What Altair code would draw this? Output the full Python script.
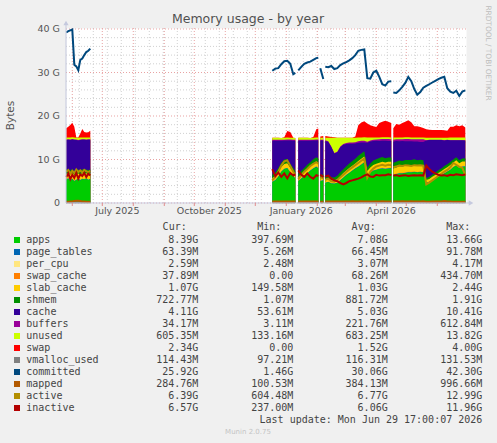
import altair as alt
import pandas as pd

# ------------------------------------------------------------------ data
# segments of continuous samples (gaps between them)
seg_sizes = [13, 9, 8, 2, 23, 25]

dates = [
    "2025-05-26", "2025-05-28", "2025-05-30", "2025-06-01", "2025-06-03", "2025-06-05", "2025-06-07",
    "2025-06-09", "2025-06-11", "2025-06-13", "2025-06-15", "2025-06-17", "2025-06-19",
    "2025-12-18", "2025-12-21", "2025-12-24", "2025-12-27", "2025-12-30", "2026-01-02", "2026-01-05",
    "2026-01-08", "2026-01-10",
    "2026-01-13", "2026-01-16", "2026-01-19", "2026-01-22", "2026-01-25", "2026-01-28", "2026-01-31",
    "2026-02-02",
    "2026-02-04", "2026-02-07",
    "2026-02-09", "2026-02-12", "2026-02-15", "2026-02-18", "2026-02-21", "2026-02-24", "2026-02-27",
    "2026-03-02", "2026-03-05", "2026-03-08", "2026-03-11", "2026-03-14", "2026-03-17", "2026-03-20",
    "2026-03-23", "2026-03-26", "2026-03-29", "2026-04-01", "2026-04-04", "2026-04-07", "2026-04-10",
    "2026-04-13", "2026-04-16",
    "2026-04-18", "2026-04-21", "2026-04-24", "2026-04-27", "2026-04-30", "2026-05-03", "2026-05-06",
    "2026-05-09", "2026-05-12", "2026-05-15", "2026-05-18", "2026-05-21", "2026-05-24", "2026-05-27",
    "2026-05-30", "2026-06-02", "2026-06-05", "2026-06-08", "2026-06-11", "2026-06-14", "2026-06-17",
    "2026-06-20", "2026-06-23", "2026-06-26", "2026-06-29",
]

# values in G
apps = [
    5.4, 5.6, 5.2, 5.5, 5.0, 5.3, 5.6, 5.2, 5.5, 5.4, 5.6, 5.3, 5.5,
    4.8, 5.2, 6.0, 7.2, 7.8, 8.0, 7.0, 6.2, 5.6,
    5.0, 5.6, 6.2, 6.8, 7.4, 7.9, 8.3, 8.0,
    5.0, 5.2,
    4.6, 4.8, 4.5, 4.4, 4.6, 5.2, 5.8, 6.4, 6.9, 7.4, 7.9, 8.3, 8.8, 9.3, 6.2, 6.9, 7.4, 7.6, 7.8, 7.9, 7.8, 7.9, 8.0,
    6.4, 6.6, 6.8, 6.8, 6.9, 7.0, 7.0, 7.1, 7.0, 7.1, 7.0, 4.6, 4.8, 5.2, 5.6, 6.0, 6.4, 6.8, 7.2, 7.6, 8.2, 8.6, 8.0, 8.3, 8.39,
]
page_tables = [
    0.065, 0.066, 0.067, 0.066, 0.064, 0.065, 0.066, 0.067, 0.066, 0.065, 0.066, 0.067, 0.066,
    0.066, 0.067, 0.066, 0.068, 0.067, 0.066, 0.065, 0.066, 0.067,
    0.066, 0.067, 0.068, 0.067, 0.066, 0.067, 0.068, 0.067,
    0.060, 0.062,
    0.064, 0.065, 0.063, 0.064, 0.065, 0.066, 0.067, 0.066, 0.067, 0.068, 0.067, 0.068, 0.069, 0.068, 0.065, 0.066, 0.067, 0.066, 0.067, 0.068, 0.067, 0.066, 0.067,
    0.066, 0.067, 0.066, 0.067, 0.068, 0.067, 0.066, 0.067, 0.068, 0.067, 0.066, 0.062, 0.063, 0.064, 0.063, 0.064, 0.063, 0.064, 0.065, 0.064, 0.063, 0.064, 0.063, 0.064, 0.063,
]
per_cpu = [
    0.0030, 0.0031, 0.0030, 0.0030, 0.0031, 0.0030, 0.0030, 0.0031, 0.0030, 0.0030, 0.0031, 0.0030, 0.0030,
    0.0032, 0.0031, 0.0032, 0.0031, 0.0032, 0.0031, 0.0032, 0.0031, 0.0032,
    0.0031, 0.0032, 0.0031, 0.0032, 0.0031, 0.0032, 0.0031, 0.0032,
    0.0025, 0.0025,
    0.0030, 0.0031, 0.0030, 0.0031, 0.0030, 0.0031, 0.0030, 0.0031, 0.0030, 0.0031, 0.0030, 0.0031, 0.0030, 0.0031, 0.0030, 0.0031, 0.0030, 0.0031, 0.0030, 0.0031, 0.0030, 0.0031, 0.0030,
    0.0029, 0.0028, 0.0029, 0.0028, 0.0029, 0.0028, 0.0029, 0.0028, 0.0029, 0.0028, 0.0029, 0.0026, 0.0026, 0.0027, 0.0026, 0.0027, 0.0026, 0.0027, 0.0026, 0.0027, 0.0026, 0.0027, 0.0026, 0.0027, 0.0026,
]
swap_cache = [
    0.08, 0.09, 0.10, 0.12, 0.09, 0.02, 0.02, 0.05, 0.08, 0.07, 0.06, 0.06, 0.07,
    0.0, 0.0, 0.0, 0.0, 0.01, 0.06, 0.05, 0.01, 0.0,
    0.0, 0.0, 0.0, 0.0, 0.0, 0.01, 0.06, 0.07,
    0.02, 0.02,
    0.03, 0.02, 0.02, 0.01, 0.0, 0.0, 0.0, 0.0, 0.0, 0.0, 0.01, 0.09, 0.10, 0.11, 0.10, 0.09, 0.08, 0.08, 0.10, 0.11, 0.12, 0.11, 0.10,
    0.08, 0.10, 0.09, 0.10, 0.11, 0.12, 0.10, 0.08, 0.08, 0.07, 0.07, 0.05, 0.05, 0.05, 0.05, 0.05, 0.05, 0.05, 0.04, 0.06, 0.06, 0.07, 0.06, 0.07, 0.04,
]
slab_cache = [
    1.2, 1.1, 1.3, 1.2, 1.3, 1.2, 1.1, 1.3, 1.2, 1.2, 1.1, 1.2, 1.2,
    0.9, 0.9, 1.0, 1.0, 1.1, 1.0, 1.0, 0.9, 0.9,
    0.9, 0.9, 1.0, 1.0, 1.0, 1.1, 1.1, 1.1,
    0.7, 0.7,
    0.8, 0.8, 0.7, 0.7, 0.8, 0.9, 1.0, 1.0, 1.1, 1.1, 1.1, 1.2, 1.2, 1.2, 1.0, 1.1, 1.2, 1.3, 1.3, 1.4, 1.3, 1.4, 1.3,
    1.4, 1.4, 1.5, 1.4, 1.5, 1.5, 1.4, 1.5, 1.4, 1.5, 1.4, 0.6, 0.6, 0.7, 0.7, 0.8, 0.8, 0.9, 0.9, 1.0, 1.0, 1.1, 1.0, 1.1, 1.07,
]
shmem = [
    0.9, 0.9, 0.8, 0.9, 0.8, 0.9, 0.9, 0.8, 0.9, 0.9, 0.9, 0.9, 0.9,
    0.8, 0.8, 0.9, 1.0, 1.0, 1.0, 0.9, 0.8, 0.8,
    0.8, 0.8, 0.8, 0.9, 0.9, 1.0, 1.0, 1.0,
    0.6, 0.6,
    0.7, 0.8, 0.7, 0.7, 0.8, 0.9, 0.9, 1.0, 1.0, 1.1, 1.1, 1.2, 1.2, 1.2, 0.8, 0.9, 1.0, 1.0, 1.1, 1.1, 1.0, 1.0, 1.0,
    1.3, 1.3, 1.3, 1.3, 1.3, 1.2, 1.3, 1.3, 1.3, 1.2, 1.3, 0.4, 0.5, 0.5, 0.6, 0.6, 0.6, 0.7, 0.7, 0.7, 0.7, 0.7, 0.7, 0.7, 0.72,
]
cache = [
    6.86, 6.79, 7.01, 6.81, 7.28, 7.01, 6.69, 7.06, 6.81, 6.90, 6.76, 7.01, 6.81,
    7.76, 7.36, 6.36, 5.06, 4.36, 4.26, 5.36, 6.36, 6.96,
    7.56, 6.96, 6.26, 5.56, 4.96, 4.26, 3.86, 4.16,
    7.96, 7.76,
    8.06, 7.56, 6.91, 5.51, 5.39, 5.73, 5.61, 5.09, 4.56, 3.93, 3.51, 2.99, 2.56, 2.03, 5.71, 5.06, 4.51, 4.24, 3.91, 3.73, 4.01, 3.79, 3.76,
    4.91, 4.76, 4.46, 4.56, 4.31, 4.31, 4.31, 4.06, 4.26, 4.11, 4.21, 8.66, 8.46, 7.96, 7.47, 6.97, 6.57, 5.87, 5.57, 4.98, 4.38, 3.88, 4.58, 4.18, 4.11,
]
buffers = [
    0.10, 0.12, 0.10, 0.10, 0.08, 0.10, 0.12, 0.10, 0.10, 0.11, 0.10, 0.10, 0.10,
    0.20, 0.21, 0.20, 0.19, 0.20, 0.21, 0.20, 0.20, 0.19,
    0.20, 0.20, 0.21, 0.20, 0.19, 0.20, 0.21, 0.20,
    0.20, 0.20,
    0.15, 0.15, 0.10, 0.10, 0.12, 0.18, 0.20, 0.22, 0.25, 0.28, 0.30, 0.32, 0.35, 0.38, 0.20, 0.25, 0.30, 0.32, 0.35, 0.38, 0.40, 0.42, 0.45,
    0.40, 0.40, 0.45, 0.45, 0.50, 0.50, 0.50, 0.55, 0.55, 0.60, 0.60, 0.05, 0.05, 0.05, 0.04, 0.04, 0.04, 0.04, 0.04, 0.03, 0.03, 0.03, 0.03, 0.03, 0.03,
]
unused = [
    0.45, 0.40, 0.50, 0.40, 0.45, 0.40, 0.50, 0.45, 0.40, 0.40, 0.45, 0.40, 0.40,
    0.45, 0.44, 0.46, 0.45, 0.45, 0.44, 0.45, 0.46, 0.45,
    0.45, 0.46, 0.44, 0.45, 0.45, 0.46, 0.44, 0.45,
    0.45, 0.45,
    0.60, 0.80, 2.00, 3.50, 3.20, 2.00, 1.40, 1.20, 1.10, 1.10, 1.00, 0.90, 0.80, 0.80, 1.00, 0.70, 0.50, 0.45, 0.45, 0.40, 0.40, 0.40, 0.40,
    0.50, 0.45, 0.40, 0.40, 0.40, 0.40, 0.40, 0.40, 0.40, 0.40, 0.40, 0.60, 0.50, 0.50, 0.50, 0.50, 0.50, 0.60, 0.50, 0.60, 0.60, 0.60, 0.60, 0.60, 0.61,
]
swap = [
    2.15, 2.45, 2.85, 3.35, 2.45, 0.05, 0.05, 0.95, 1.95, 1.25, 1.15, 1.25, 1.55,
    0.0, 0.0, 0.0, 0.0, 0.1, 1.5, 1.3, 0.0, 0.0,
    0.0, 0.0, 0.0, 0.0, 0.0, 0.2, 1.9, 2.1,
    0.3, 0.4,
    0.4, 0.3, 0.2, 0.1, 0.0, 0.0, 0.0, 0.0, 0.0, 0.0, 0.3, 2.8, 3.4, 3.7, 3.2, 2.8, 2.6, 2.4, 3.3, 3.6, 3.8, 3.6, 3.3,
    2.15, 3.1, 2.9, 3.3, 3.6, 3.9, 3.5, 2.6, 2.6, 2.4, 2.2, 1.95, 1.8, 1.75, 1.75, 1.75, 1.75, 1.7, 1.6, 2.5, 2.5, 2.8, 2.6, 2.8, 2.34,
]
vmalloc_used = [
    0.112, 0.113, 0.112, 0.114, 0.113, 0.112, 0.113, 0.114, 0.113, 0.112, 0.113, 0.114, 0.113,
    0.116, 0.117, 0.116, 0.118, 0.117, 0.116, 0.117, 0.118, 0.117,
    0.116, 0.117, 0.118, 0.117, 0.116, 0.117, 0.118, 0.117,
    0.110, 0.111,
    0.115, 0.116, 0.115, 0.116, 0.117, 0.116, 0.117, 0.118, 0.117, 0.118, 0.119, 0.118, 0.119, 0.120, 0.116, 0.117, 0.118, 0.117, 0.118, 0.119, 0.118, 0.119, 0.118,
    0.117, 0.118, 0.117, 0.118, 0.119, 0.118, 0.117, 0.118, 0.119, 0.118, 0.117, 0.113, 0.114, 0.113, 0.114, 0.115, 0.114, 0.115, 0.114, 0.115, 0.114, 0.115, 0.114, 0.115, 0.114,
]
committed = [
    39.2, 39.5, 39.7, 39.9, 31.8, 31.4, 30.5, 32.9, 33.2, 34.0, 34.7, 35.0, 35.5,
    30.4, 30.9, 31.0, 31.9, 32.6, 32.7, 32.0, 29.6, 29.9,
    30.5, 31.3, 32.0, 32.3, 32.5, 32.9, 33.3, 33.4,
    31.0, 28.5,
    31.3, 31.2, 31.5, 30.8, 31.0, 31.7, 32.1, 32.4, 32.8, 33.3, 34.0, 35.0, 35.2, 35.3, 28.7, 28.6, 30.0, 30.4, 29.0, 27.3, 27.0, 27.9, 28.0,
    25.4, 25.3, 25.9, 26.7, 27.6, 29.0, 28.0, 26.2, 24.9, 25.5, 26.5, 26.9, 27.3, 27.7, 28.1, 28.5, 28.8, 29.0, 26.4, 25.6, 25.3, 25.8, 24.6, 25.6, 25.9,
]
mapped = [
    0.30, 0.30, 0.32, 0.35, 0.48, 0.52, 0.50, 0.45, 0.35, 0.32, 0.30, 0.30, 0.30,
    0.35, 0.36, 0.34, 0.35, 0.37, 0.36, 0.35, 0.34, 0.35,
    0.34, 0.35, 0.36, 0.35, 0.34, 0.36, 0.35, 0.35,
    0.30, 0.31,
    0.33, 0.34, 0.32, 0.33, 0.35, 0.36, 0.35, 0.37, 0.36, 0.38, 0.37, 0.36, 0.38, 0.37, 0.34, 0.35, 0.36, 0.37, 0.36, 0.38, 0.37, 0.36, 0.37,
    0.36, 0.37, 0.36, 0.38, 0.37, 0.36, 0.38, 0.37, 0.36, 0.37, 0.38, 0.30, 0.31, 0.32, 0.33, 0.32, 0.34, 0.45, 0.33, 0.32, 0.31, 0.30, 0.29, 0.29, 0.28,
]
active = [
    7.2, 7.6, 6.8, 7.4, 6.9, 7.7, 7.1, 7.5, 7.0, 7.6, 7.3, 7.1, 7.4,
    5.2, 6.0, 7.2, 8.6, 9.6, 9.8, 8.5, 7.2, 6.4,
    5.5, 6.4, 7.2, 7.8, 8.5, 9.0, 9.4, 9.0,
    6.0, 5.6,
    5.3, 5.6, 5.0, 4.9, 5.3, 5.9, 6.5, 7.1, 7.7, 8.2, 8.7, 9.2, 9.7, 10.2, 5.8, 7.2, 7.9, 8.4, 8.6, 8.8, 8.6, 8.8, 8.7,
    8.2, 8.4, 8.6, 8.5, 8.7, 8.6, 8.5, 8.7, 8.6, 8.7, 8.6, 4.3, 4.7, 5.2, 5.7, 6.2, 6.7, 7.2, 7.6, 8.2, 9.2, 8.8, 8.3, 8.1, 6.4,
]
inactive = [
    6.0, 6.8, 5.5, 6.5, 5.8, 6.9, 5.6, 6.6, 6.2, 6.9, 6.0, 6.7, 6.3,
    7.8, 6.2, 7.0, 6.0, 6.8, 5.7, 6.9, 6.3, 6.6,
    7.5, 6.5, 6.0, 6.8, 6.0, 5.6, 6.4, 6.2,
    6.5, 6.0,
    6.1, 6.3, 5.6, 5.2, 5.0, 4.6, 4.3, 4.6, 5.0, 5.2, 5.4, 5.6, 5.9, 6.3, 6.6, 6.1, 6.0, 6.5, 6.3, 6.4, 6.4, 6.6, 6.4,
    6.3, 6.4, 6.2, 6.3, 6.4, 6.2, 6.3, 6.4, 6.3, 6.4, 6.3, 8.6, 7.8, 7.2, 6.8, 6.5, 6.3, 6.4, 6.2, 6.5, 6.4, 6.6, 6.5, 6.4, 6.57,
]

legend_names = ["apps", "page_tables", "per_cpu", "swap_cache", "slab_cache", "shmem", "cache", "buffers",
                "unused", "swap", "vmalloc_used", "committed", "mapped", "active", "inactive"]
legend_colors = ["#00CC00", "#0066B3", "#FFE680", "#FF8000", "#FFCC00", "#008F00", "#330099", "#990099",
                 "#CCFF00", "#FF0000", "#808080", "#00487D", "#B35A00", "#B38F00", "#B30000"]
legend_cur = ["8.39G", "63.39M", "2.59M", "37.89M", "1.07G", "722.77M", "4.11G", "34.17M",
              "605.35M", "2.34G", "114.43M", "25.92G", "284.76M", "6.39G", "6.57G"]
legend_min = ["397.69M", "5.26M", "2.48M", "0.00", "149.58M", "1.07M", "53.61M", "3.11M",
              "133.16M", "0.00", "97.21M", "1.46G", "100.53M", "604.48M", "237.00M"]
legend_avg = ["7.08G", "66.45M", "3.07M", "68.26M", "1.03G", "881.72M", "5.03G", "221.76M",
              "683.25M", "1.52G", "116.31M", "30.06G", "384.13M", "6.77G", "6.06G"]
legend_max = ["13.66G", "91.78M", "4.17M", "434.70M", "2.44G", "1.91G", "10.41G", "612.84M",
              "13.82G", "4.00G", "131.53M", "42.30G", "996.66M", "12.99G", "11.96G"]

month_starts = ["2025-06-01", "2025-07-01", "2025-08-01", "2025-09-01", "2025-10-01", "2025-11-01",
                "2025-12-01", "2026-01-01", "2026-02-01", "2026-03-01", "2026-04-01", "2026-05-01",
                "2026-06-01"]
x_label_dates = ["2025-07-16", "2025-10-16", "2026-01-16", "2026-04-16"]
x_label_text = ["July 2025", "October 2025", "January 2026", "April 2026"]
y_major = [0, 10, 20, 30, 40]
y_label_text = ["0", "10 G", "20 G", "30 G", "40 G"]
y_minor = [2, 4, 6, 8, 12, 14, 16, 18, 22, 24, 26, 28, 32, 34, 36, 38]

# ------------------------------------------------------------------ tables
series = {
    "apps": apps, "page_tables": page_tables, "per_cpu": per_cpu, "swap_cache": swap_cache,
    "slab_cache": slab_cache, "shmem": shmem, "cache": cache, "buffers": buffers,
    "unused": unused, "swap": swap, "vmalloc_used": vmalloc_used, "committed": committed,
    "mapped": mapped, "active": active, "inactive": inactive,
}
n = sum(seg_sizes)
assert len(dates) == n
for k, v in series.items():
    assert len(v) == n, (k, len(v))

seg_ids = []
for i, s in enumerate(seg_sizes):
    seg_ids += [i] * s

df = pd.DataFrame({"date": dates, "seg": seg_ids})
for k, v in series.items():
    df[k] = v

COL = dict(zip(legend_names, legend_colors))
stack_order = ["apps", "page_tables", "per_cpu", "swap_cache", "slab_cache", "shmem", "cache",
               "buffers", "unused", "swap"]
line_order = ["vmalloc_used", "committed", "mapped", "active", "inactive"]

running = pd.Series(0.0, index=df.index)
for name in stack_order:
    running = running + df[name]
    df["top_" + name] = running

xs = alt.Scale(type="utc", nice=False,
               domain=[alt.DateTime(year=2025, month=5, date=25, hours=17, utc=True),
                       alt.DateTime(year=2026, month=6, date=29, hours=17, utc=True)])
ys = alt.Scale(domain=[0, 40.23], nice=False, zero=True)

SANS = "DejaVu Sans"
MONO = "DejaVu Sans Mono"

# ------------------------------------------------------------------ grid
minor_x = pd.DataFrame({"d": pd.date_range("2025-06-08", "2026-06-28", freq="14D").strftime("%Y-%m-%d")})
major_x = pd.DataFrame({"d": month_starts})

grid_minor_v = alt.Chart(minor_x).mark_rule(color="#D0D0D0", strokeDash=[1, 2], strokeWidth=1).encode(
    x=alt.X("d:T", scale=xs, axis=None))
grid_minor_h = alt.Chart(pd.DataFrame({"v": y_minor})).mark_rule(color="#D0D0D0", strokeDash=[1, 2], strokeWidth=1).encode(
    y=alt.Y("v:Q", scale=ys, axis=None))
grid_major_v = alt.Chart(major_x).mark_rule(color="#E9A3A3", strokeDash=[1, 2], strokeWidth=1).encode(
    x=alt.X("d:T", scale=xs, axis=None))
grid_major_h = alt.Chart(pd.DataFrame({"v": y_major})).mark_rule(color="#E9A3A3", strokeDash=[1, 2], strokeWidth=1).encode(
    y=alt.Y("v:Q", scale=ys, axis=None))

# axis labels drawn as text through the same scales
x_labels = alt.Chart(pd.DataFrame({"d": x_label_dates, "t": x_label_text})).mark_text(
    font=SANS, fontSize=9.5, color="#555555", align="center", baseline="middle").encode(
    x=alt.X("d:T", scale=xs, axis=None), y=alt.value(183), text="t:N")
y_labels = alt.Chart(pd.DataFrame({"v": y_major, "t": y_label_text})).mark_text(
    font=SANS, fontSize=9.5, color="#555555", align="right", baseline="middle").encode(
    y=alt.Y("v:Q", scale=ys, axis=None), x=alt.value(-6), text="t:N")

# ------------------------------------------------------------------ data marks
area_layers = []
for name in reversed(stack_order):
    area_layers.append(
        alt.Chart(df).mark_area(color=COL[name], opacity=1, interpolate="linear").encode(
            x=alt.X("date:T", scale=xs, axis=None),
            y=alt.Y("top_" + name + ":Q", scale=ys, axis=None, stack=False),
            detail="seg:N",
        ))

line_layers = []
for name in line_order:
    line_layers.append(
        alt.Chart(df).mark_line(color=COL[name], strokeWidth=2, interpolate="linear").encode(
            x=alt.X("date:T", scale=xs, axis=None),
            y=alt.Y(name + ":Q", scale=ys, axis=None),
            detail="seg:N",
        ))

one = pd.DataFrame({"a": [0]})
AXC = "#C5C9DE"
axis_left = alt.Chart(one).mark_rule(color=AXC, strokeWidth=1).encode(
    x=alt.value(0), y=alt.value(-5), y2=alt.value(175))
axis_bottom = alt.Chart(one).mark_rule(color=AXC, strokeWidth=1).encode(
    x=alt.value(0), x2=alt.value(404), y=alt.value(175))
arrow_up = alt.Chart(one).mark_point(shape="triangle-up", filled=True, size=28, color=AXC, opacity=1).encode(
    x=alt.value(0), y=alt.value(-5))
arrow_right = alt.Chart(one).mark_point(shape="triangle-right", filled=True, size=28, color=AXC, opacity=1).encode(
    x=alt.value(405), y=alt.value(175))
month_ticks = alt.Chart(major_x).mark_rule(color="#E08C8C", strokeWidth=1).encode(
    x=alt.X("d:T", scale=xs, axis=None), y=alt.value(175), y2=alt.value(178))

main = alt.layer(grid_minor_v, grid_minor_h, grid_major_v, grid_major_h,
                 *area_layers, *line_layers, axis_left, axis_bottom, arrow_up, arrow_right, month_ticks,
                 x_labels, y_labels)

# ------------------------------------------------------------------ texts / legend
def txt(text, x, y, **kw):
    return alt.Chart(pd.DataFrame({"t": [text]})).mark_text(**kw).encode(
        x=alt.value(x), y=alt.value(y), text="t:N")

title = txt("Memory usage - by year", 182, -9.5, font=SANS, fontSize=12.5, color="#505050",
            align="center", baseline="middle")
ytitle = txt("Bytes", -55, 87.5, font=SANS, fontSize=10.5, color="#555555", angle=270,
             align="center", baseline="middle")
rrd = txt("RRDTOOL / TOBI OETIKER", 421.5, 25, font=SANS, fontSize=7.4, color="#BDBDBD", angle=90,
          align="center", baseline="middle")
lastupd = txt("Last update: Mon Jun 29 17:00:07 2026", 416.3, 392, font=MONO, fontSize=10,
              color="#444444", align="right", baseline="middle")
munin = txt("Munin 2.0.75", 182, 404, font=SANS, fontSize=7, color="#C4C4C4",
            align="center", baseline="middle")

headers = [txt(h, hx, 199.3, font=MONO, fontSize=10, color="#444444", align="right", baseline="middle")
           for h, hx in [("Cur:", 120.7), ("Min:", 215.3), ("Avg:", 309.7), ("Max:", 404.3)]]

leg = pd.DataFrame({"row": list(range(len(legend_names))), "name": legend_names, "col": legend_colors,
                    "cur": legend_cur, "mn": legend_min, "avg": legend_avg, "mx": legend_max})
lbase = alt.Chart(leg).transform_calculate(py="212 + 12 * datum.row")
squares = lbase.mark_square(size=36, opacity=1).encode(
    x=alt.value(-49), y=alt.Y("py:Q", scale=None), color=alt.Color("col:N", scale=None))
leg_layers = [squares]
for field, xpos, al in [("name", -39.7, "left"), ("cur", 132.3, "right"), ("mn", 227.3, "right"),
                        ("avg", 321.7, "right"), ("mx", 416.3, "right")]:
    leg_layers.append(lbase.mark_text(font=MONO, fontSize=10, color="#444444", align=al, baseline="middle").encode(
        x=alt.value(xpos), y=alt.Y("py:Q", scale=None), text=field + ":N"))

legend = alt.layer(title, ytitle, rrd, lastupd, munin, *headers, *leg_layers)

chart = alt.layer(main, legend).resolve_scale(x="independent", y="independent", color="independent").properties(
    width=400, height=175,
    padding={"left": 66, "top": 28, "right": 31, "bottom": 240},
    autosize=alt.AutoSizeParams(type="none"),
).configure(background="#F0F0F0", font=SANS).configure_view(fill="white", stroke="transparent")

chart.save("out.html", embed_options={"renderer": "svg", "actions": False})
